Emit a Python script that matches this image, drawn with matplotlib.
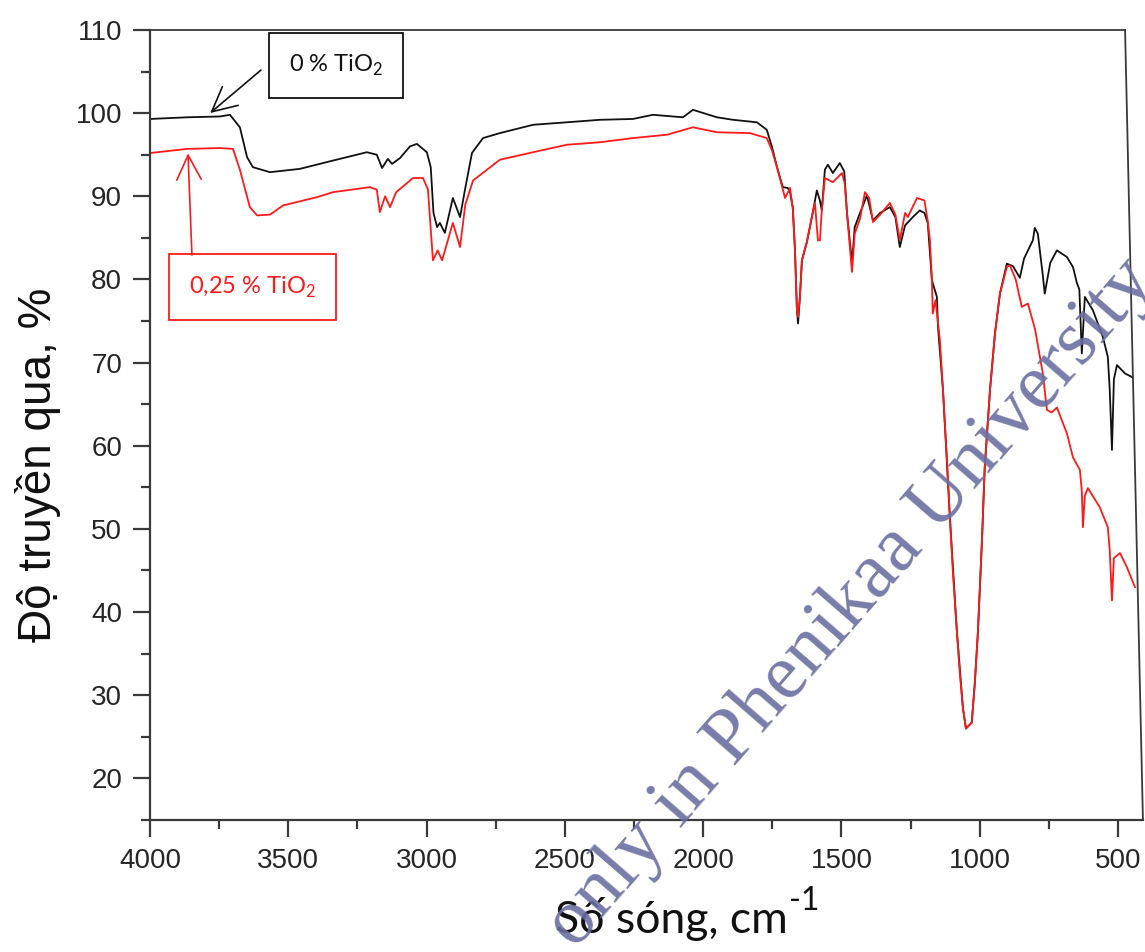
import matplotlib
matplotlib.use('Agg')
import matplotlib.pyplot as plt
from matplotlib.ticker import MultipleLocator

plt.rcParams['font.family'] = ['Liberation Sans', 'DejaVu Sans']
plt.rcParams['mathtext.fontset'] = 'custom'
plt.rcParams['mathtext.rm'] = 'Lato'

# FTIR spectrum, 0 % TiO2 (black)
wn_0 = [4000, 3866, 3747, 3711, 3675, 3649, 3628, 3566, 3458, 3338, 3216, 3180,
        3161, 3140, 3125, 3096, 3060, 3035, 2999, 2985, 2975, 2962, 2952, 2934,
        2905, 2879, 2860, 2836, 2796, 2735, 2615, 2493, 2373, 2254, 2182, 2073,
        2037, 1950, 1892, 1806, 1770, 1751, 1733, 1712, 1694, 1686, 1676, 1668,
        1661, 1657, 1650, 1643, 1625, 1607, 1589, 1578, 1571, 1560, 1549, 1531,
        1506, 1490, 1480, 1462, 1452, 1433, 1408, 1386, 1360, 1325, 1305, 1289,
        1270, 1242, 1217, 1200, 1188, 1173, 1155, 1151, 1133, 1108, 1083, 1061,
        1050, 1029, 1018, 1007, 992, 982, 963, 945, 927, 902, 880, 855, 840, 830,
        808, 801, 790, 772, 765, 745, 721, 685, 663, 649, 640, 631, 620, 591, 555,
        537, 530, 522, 515, 504, 475, 446]
t_0 = [99.3, 99.5, 99.6, 99.8, 98.3, 94.7, 93.5, 92.9, 93.3, 94.3, 95.3, 95.0,
       93.4, 94.5, 93.9, 94.6, 96.0, 96.3, 95.3, 93.5, 88.0, 86.3, 86.8, 85.6,
       89.8, 87.5, 91.0, 95.2, 97.0, 97.6, 98.6, 98.9, 99.2, 99.3, 99.8, 99.5,
       100.4, 99.5, 99.2, 98.9, 98.0, 95.9, 93.5, 91.1, 91.0, 90.5, 88.7, 83.5,
       76.3, 74.7, 78.0, 82.3, 84.5, 87.5, 90.7, 89.5, 88.3, 93.2, 93.8, 92.8,
       94.0, 93.0, 88.0, 82.0, 86.3, 88.0, 90.1, 87.1, 88.0, 88.7, 87.5, 83.9,
       86.5, 87.5, 88.3, 88.0, 86.8, 79.9, 77.9, 74.3, 66.7, 51.4, 37.8, 28.5,
       26.0, 26.7, 31.4, 37.4, 48.6, 57.4, 66.7, 73.5, 78.3, 81.9, 81.6, 80.2,
       82.5, 83.2, 84.7, 86.2, 85.5, 80.5, 78.3, 82.0, 83.5, 82.7, 81.5, 79.6,
       78.8, 71.1, 77.9, 76.3, 73.1, 70.7, 66.7, 59.5, 68.0, 69.7, 68.7, 68.2]

# FTIR spectrum, 0,25 % TiO2 (red)
wn_025 = [4000, 3866, 3747, 3700, 3675, 3639, 3613, 3566, 3519, 3396, 3338, 3205,
          3180, 3169, 3150, 3132, 3110, 3049, 3013, 2995, 2977, 2960, 2944, 2905,
          2879, 2860, 2832, 2735, 2615, 2493, 2373, 2254, 2131, 2037, 1950, 1831,
          1770, 1751, 1733, 1704, 1686, 1676, 1668, 1661, 1657, 1650, 1643, 1625,
          1607, 1596, 1585, 1578, 1571, 1560, 1531, 1498, 1488, 1480, 1462, 1452,
          1433, 1415, 1400, 1386, 1360, 1325, 1305, 1289, 1270, 1260, 1227, 1200,
          1188, 1180, 1173, 1170, 1160, 1144, 1133, 1119, 1108, 1097, 1083, 1072,
          1061, 1050, 1029, 1018, 1007, 992, 982, 963, 945, 927, 902, 891, 870,
          848, 826, 800, 772, 757, 740, 721, 685, 663, 638, 631, 627, 620, 609,
          566, 537, 530, 522, 515, 493, 468, 439]
t_025 = [95.2, 95.7, 95.8, 95.7, 93.2, 88.7, 87.7, 87.8, 88.9, 89.9, 90.5, 91.1,
         90.8, 88.1, 90.0, 88.7, 90.5, 92.2, 92.2, 90.8, 82.3, 83.5, 82.3, 86.8,
         83.9, 89.0, 91.9, 94.4, 95.3, 96.2, 96.5, 97.0, 97.4, 98.3, 97.7, 97.6,
         97.0, 95.5, 93.5, 89.8, 91.0, 88.5, 83.5, 76.3, 75.5, 78.0, 82.3, 84.5,
         87.5, 89.2, 84.7, 84.7, 88.3, 92.2, 91.7, 92.8, 91.5, 88.0, 80.9, 85.5,
         87.3, 90.5, 89.8, 86.9, 87.8, 89.2, 87.8, 84.7, 88.0, 87.5, 89.8, 89.5,
         87.0, 84.7, 79.9, 75.9, 77.5, 72.7, 66.7, 58.6, 51.4, 44.7, 37.8, 32.6,
         28.5, 26.0, 26.7, 31.4, 37.4, 48.6, 57.4, 66.7, 73.5, 78.3, 81.5, 81.7,
         80.0, 76.7, 77.1, 74.0, 68.7, 64.3, 64.0, 64.6, 61.5, 58.6, 57.1, 54.6,
         50.2, 54.0, 54.9, 52.6, 50.2, 47.4, 41.4, 46.5, 47.1, 45.4, 43.0]

label_0 = '0 % TiO$_\\mathregular{2}$'
label_025 = '0,25 % TiO$_\\mathregular{2}$'

fig = plt.figure(figsize=(11.45, 9.52), dpi=100)
ax = fig.add_axes([0.1310, 0.1387, 0.8672, 0.8298])

ax.plot(wn_0, t_0, color='#111111', lw=1.3)
ax.plot(wn_025, t_025, color='#ff1a1a', lw=1.3)

ax.set_xlim(4000, 410)
ax.set_ylim(15, 110)
ax.xaxis.set_major_locator(MultipleLocator(500))
ax.xaxis.set_minor_locator(MultipleLocator(250))
ax.yaxis.set_major_locator(MultipleLocator(10))
ax.yaxis.set_minor_locator(MultipleLocator(5))

axc = '#3a3a3a'
for s in ['left', 'bottom']:
    ax.spines[s].set_linewidth(1.6)
    ax.spines[s].set_color(axc)
ax.spines['top'].set_visible(False)
ax.spines['right'].set_visible(False)
# top edge and the slanted right edge of the original frame
ax.plot([0, 0.982], [1, 1], transform=ax.transAxes, color=axc, lw=1.3, clip_on=False)
ax.plot([0.982, 1.0], [1, 0], transform=ax.transAxes, color=axc, lw=1.3, clip_on=False)

ax.tick_params(which='major', direction='out', length=12, width=1.6, color=axc,
               labelsize=20, labelcolor='#262626', pad=8)
ax.tick_params(which='minor', direction='out', length=6.5, width=1.6, color=axc)

ax.set_ylabel('Độ truyền qua, %', fontsize=33, color='#111111')
ax.yaxis.set_label_coords(-0.09, 0.449)
ax.set_xlabel('Số sóng, cm', fontsize=32,
              family=['Lato', 'DejaVu Sans'], color='#111111')
ax.xaxis.set_label_coords(0.525, -0.097)

# annotation boxes
ax.text(3328, 105.7, label_0, fontsize=17, family=['Lato', 'DejaVu Sans'],
        ha='center', va='center', color='#111111',
        bbox=dict(boxstyle='square,pad=0.85', fc='white', ec='#111111', lw=1.3))
ax.annotate('', xy=(3790, 99.8), xytext=(3591, 105.4),
            arrowprops=dict(arrowstyle='->,head_length=0.8,head_width=0.4',
                            color='#111111', lw=1.2, mutation_scale=22))
ax.text(3628, 79.1, label_025, fontsize=17, family=['Lato', 'DejaVu Sans'],
        ha='center', va='center', color='#ff1a1a',
        bbox=dict(boxstyle='square,pad=0.85', fc='white', ec='#ff1a1a', lw=1.3))
ax.annotate('', xy=(3863, 95.5), xytext=(3848, 82.6),
            arrowprops=dict(arrowstyle='->,head_length=0.8,head_width=0.4',
                            color='#ff1a1a', lw=1.2, mutation_scale=22))

# superscript "-1" after the x label (short hyphen, as in the original)
fig.canvas.draw()
bb = ax.xaxis.label.get_window_extent()
fig.text((bb.x1 + 1) / fig.bbox.width, (bb.y0 + 31) / fig.bbox.height, '-1',
         fontsize=23, family=['Lato', 'DejaVu Sans'], color='#111111',
         ha='left', va='baseline')

# watermark, cut at the figure edges as in the original
fig.text(0.744, 0.366, 'only in Phenikaa University', fontsize=57,
         family=['Liberation Serif'], color='#6a6ea0', alpha=0.9,
         rotation=49, ha='center', va='center', rotation_mode='anchor')

fig.savefig('out.png', dpi=100)
